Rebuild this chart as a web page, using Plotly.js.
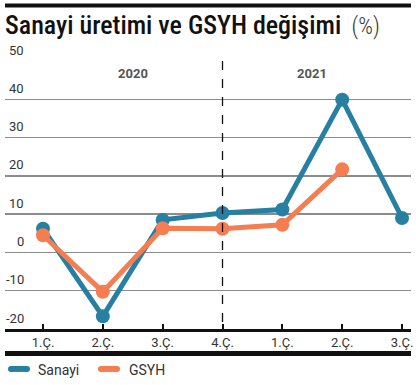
<!DOCTYPE html>
<html>
<head>
<meta charset="utf-8">
<script src="https://cdn.plot.ly/plotly-3.0.1.min.js"></script>
<style>html,body{margin:0;padding:0;background:#fff;}#chart{width:416px;height:385px;}</style>
</head>
<body>
<div id="chart"></div>
<script>
// Data
const quarters = ["1.Ç.", "2.Ç.", "3.Ç.", "4.Ç.", "1.Ç.", "2.Ç.", "3.Ç."];
const years = ["2020", "2021"];
const sanayi = [6.2, -16.7, 8.5, 10.3, 11.2, 39.9, 9.0];
const gsyh = [4.5, -10.3, 6.3, 6.2, 7.2, 21.7, null];
const yTicks = [-20, -10, 0, 10, 20, 30, 40, 50];

const W = 416, H = 385;
const L = 5, R = 5, T = 60.5, B = 56;
const plotW = W - L - R, plotH = H - T - B;
const px = v => (v - L) / plotW;          // pixel x -> paper
const py = v => (H - B - v) / plotH;      // pixel y -> paper

const blue = "#2780a2", orange = "#f47d52";
const idx = quarters.map((_, i) => i);
const FONT = "Roboto, sans-serif";

const traces = [
  {x: idx, y: sanayi, mode: "lines+markers", name: "Sanayi", showlegend: false,
   line: {color: blue, width: 5}, marker: {color: blue, size: 14}, cliponaxis: false},
  {x: idx, y: gsyh, mode: "lines+markers", name: "GSYH", showlegend: false,
   line: {color: orange, width: 5}, marker: {color: orange, size: 14}, cliponaxis: false}
];

const annotations = [];
yTicks.forEach(v => {
  annotations.push({xref: "paper", yref: "y", x: px(26), y: v, yshift: 11,
    text: String(v), showarrow: false, xanchor: "right", yanchor: "middle",
    font: {family: FONT, size: 13, color: "#333"}});
});
annotations.push({xref: "x", yref: "y", x: 1.5, y: 46.8, text: "<b>" + years[0] + "</b>",
  showarrow: false, font: {family: FONT, size: 13, color: "#555"}});
annotations.push({xref: "x", yref: "y", x: 4.5, y: 46.8, text: "<b>" + years[1] + "</b>",
  showarrow: false, font: {family: FONT, size: 13, color: "#555"}});
// legend texts
annotations.push({xref: "paper", yref: "paper", x: px(36), y: py(370), text: "Sanayi",
  showarrow: false, xanchor: "left", yanchor: "middle",
  font: {family: FONT, size: 14, color: "#333"}});
annotations.push({xref: "paper", yref: "paper", x: px(127), y: py(370), text: "GSYH",
  showarrow: false, xanchor: "left", yanchor: "middle",
  font: {family: FONT, size: 14, color: "#333"}});
// title
annotations.push({xref: "paper", yref: "paper", x: px(3), y: py(24), xanchor: "left", yanchor: "middle",
  text: "Sanayi üretimi ve GSYH değişimi<span style='font-size:23px;font-weight:300;color:#333'>  (%)</span>",
  showarrow: false, font: {family: "'Roboto Condensed', Roboto, sans-serif", size: 26, color: "#111", weight: 500}});

const shapes = [
  {type: "rect", xref: "paper", yref: "paper", x0: px(5), x1: px(411), y0: py(3), y1: py(7),
   fillcolor: "#111", line: {width: 0}},
  {type: "rect", xref: "paper", yref: "paper", x0: px(5), x1: px(411), y0: py(351), y1: py(356),
   fillcolor: "#111", line: {width: 0}},
  {type: "line", xref: "x", yref: "y", x0: 3, x1: 3, y0: 50, y1: -20,
   line: {color: "#111", width: 1.3, dash: "dash"}},
  {type: "line", xref: "paper", yref: "paper", x0: px(11), x1: px(27), y0: py(369), y1: py(369),
   line: {color: blue, width: 6}},
  {type: "circle", xref: "paper", yref: "paper", x0: px(8), x1: px(14), y0: py(366), y1: py(372),
   fillcolor: blue, line: {width: 0}},
  {type: "circle", xref: "paper", yref: "paper", x0: px(24), x1: px(30), y0: py(366), y1: py(372),
   fillcolor: blue, line: {width: 0}},
  {type: "line", xref: "paper", yref: "paper", x0: px(101), x1: px(117), y0: py(369), y1: py(369),
   line: {color: orange, width: 6}},
  {type: "circle", xref: "paper", yref: "paper", x0: px(98), x1: px(104), y0: py(366), y1: py(372),
   fillcolor: orange, line: {width: 0}},
  {type: "circle", xref: "paper", yref: "paper", x0: px(114), x1: px(120), y0: py(366), y1: py(372),
   fillcolor: orange, line: {width: 0}}
];

const layout = {
  width: W, height: H,
  margin: {l: L, r: R, t: T, b: B, pad: 0},
  paper_bgcolor: "#fff", plot_bgcolor: "#fff",
  showlegend: false,
  xaxis: {range: [-0.635, 6.15], tickvals: idx, ticktext: quarters, showgrid: false, zeroline: false,
    showline: true, linecolor: "#111", linewidth: 2.5, ticks: "inside", ticklen: 5, tickwidth: 2,
    tickcolor: "#111", tickfont: {family: FONT, size: 13, color: "#333"},
    fixedrange: true},
  yaxis: {range: [-20, 50], tickvals: yTicks, showticklabels: false, showgrid: true,
    gridcolor: "#8c8c8c", gridwidth: 1.5, zeroline: false, showline: false, fixedrange: true},
  annotations: annotations,
  shapes: shapes
};

Plotly.newPlot("chart", traces, layout, {displayModeBar: false, staticPlot: true});
</script>
</body>
</html>
